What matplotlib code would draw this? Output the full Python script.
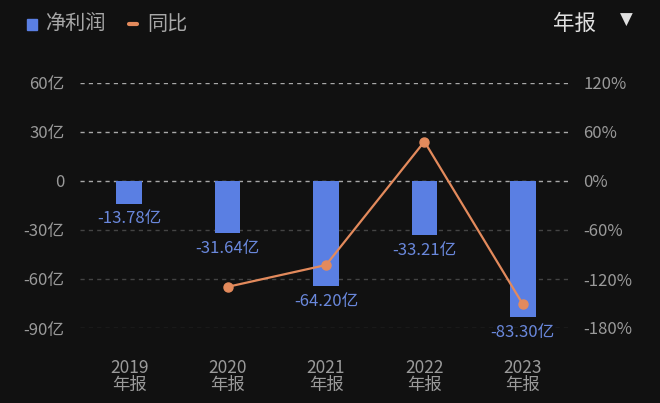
import matplotlib.pyplot as plt

plt.rcParams['font.family'] = ['Noto Sans CJK SC', 'DejaVu Sans']

# 数据
years = ['2019', '2020', '2021', '2022', '2023']
profit = [-13.78, -31.64, -64.20, -33.21, -83.30]   # 净利润（亿）
yoy = [None, -129.6, -102.9, 48.3, -150.8]           # 同比（%）
left_ticks = [60, 30, 0, -30, -60, -90]
left_labels = ['60亿', '30亿', '0', '-30亿', '-60亿', '-90亿']
right_labels = ['120%', '60%', '0%', '-60%', '-120%', '-180%']

bg = '#111111'
bar_color = '#5a7fe3'
line_color = '#e38a5c'
tick_color = '#9a9a9a'

fig = plt.figure(figsize=(6.6, 4.03), dpi=100, facecolor=bg)
ax = fig.add_axes([80 / 660, 75 / 403, 492 / 660, 245 / 403])
ax.set_facecolor(bg)

x = list(range(len(years)))
ax.bar(x, profit, width=0.26, color=bar_color, zorder=2)
for xi, v in zip(x, profit):
    ax.annotate(f'{v:.2f}亿', (xi, v), xytext=(0, -5), textcoords='offset points',
                ha='center', va='top', color='#6a88dc', fontsize=12, zorder=4)

ax.set_xlim(-0.5, len(years) - 0.5)
ax.set_ylim(-90, 60)

# 网格线：上半部分较亮，下半部分较暗
for t in left_ticks:
    c = '#a8a8a8' if t >= 0 else '#444444'
    ax.axhline(t, color=c, lw=1, ls=(0, (3, 3)), zorder=1)

ax.set_yticks(left_ticks)
ax.set_yticklabels(left_labels)
ax.set_xticks(x)
ax.set_xticklabels([f'{y}\n年报' for y in years], linespacing=0.95)
ax.tick_params(axis='y', length=0, pad=11, colors=tick_color, labelsize=12)
ax.tick_params(axis='x', length=0, pad=22, colors=tick_color, labelsize=12.5)
for s in ax.spines.values():
    s.set_visible(False)

ax2 = ax.twinx()
xs = [xi for xi, v in zip(x, yoy) if v is not None]
vs = [v for v in yoy if v is not None]
ax2.plot(xs, vs, color=line_color, lw=1.6, marker='o', markersize=6.5, zorder=3)
ax2.set_ylim(-180, 120)
ax2.set_yticks([120, 60, 0, -60, -120, -180])
ax2.set_yticklabels(right_labels)
ax2.tick_params(axis='y', length=0, pad=8, colors=tick_color, labelsize=12)
for s in ax2.spines.values():
    s.set_visible(False)

# 图例与右上角标签
fig.patches.append(plt.Rectangle((27 / 660, 1 - 30 / 403), 10 / 660, 11 / 403,
                                 transform=fig.transFigure, color=bar_color))
fig.text(45 / 660, 1 - 24 / 403, '净利润', color='#a8a8a8', fontsize=14.5, va='center')
fig.lines.append(plt.Line2D([129 / 660, 137 / 660], [1 - 24 / 403, 1 - 24 / 403],
                            transform=fig.transFigure, color=line_color, lw=3,
                            solid_capstyle='round'))
fig.text(147 / 660, 1 - 24 / 403, '同比', color='#a8a8a8', fontsize=14.5, va='center')
fig.text(553 / 660, 1 - 24 / 403, '年报', color='#e0e0e0', fontsize=15.5, va='center')
fig.text(626 / 660, 1 - 20 / 403, '▼', color='#e0e0e0', fontsize=12, va='center',
         ha='center', family='DejaVu Sans')

fig.savefig('out.png', dpi=100, facecolor=bg)
